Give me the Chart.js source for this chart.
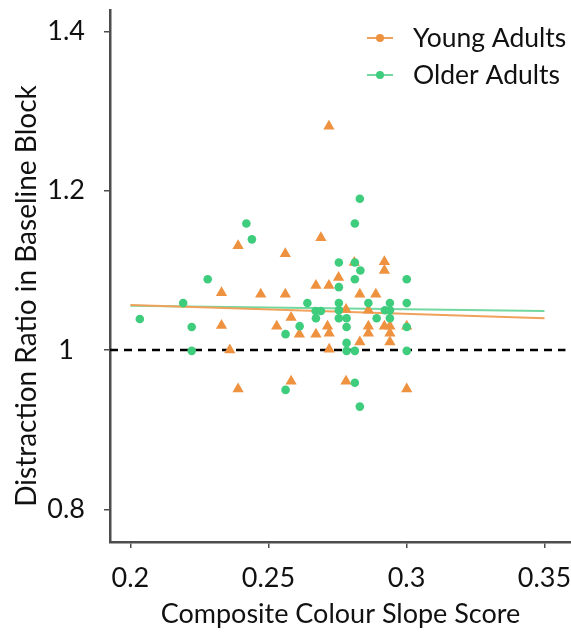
<!DOCTYPE html>
<html>
<head>
<meta charset="utf-8">
<script src="https://cdn.jsdelivr.net/npm/chart.js@4.4.0/dist/chart.umd.min.js"></script>
<style>
  html, body { margin: 0; padding: 0; background: #ffffff; overflow: hidden; }
  canvas { display: block; }
</style>
</head>
<body>
<canvas id="c" width="571" height="632" style="width:571px;height:632px"></canvas>
<script>
// ---- Data ----
const seriesNames = ['Young Adults', 'Older Adults'];

const youngX = [0.2719,0.2690,0.2561,0.2390,0.2330,0.2472,0.2561,0.2811,0.2920,0.2920,
                0.2754,0.2672,0.2719,0.2831,0.2889,0.2781,0.2862,0.2582,0.2530,0.2612,
                0.2672,0.2714,0.2720,0.2862,0.2920,0.2940,0.3001,0.2862,0.2940,0.2831,
                0.2940,0.2720,0.2360,0.2582,0.2781,0.2390,0.3001,0.2330];
const youngY = [1.281,1.141,1.121,1.131,1.072,1.070,1.070,1.110,1.111,1.100,
                1.091,1.081,1.081,1.070,1.070,1.051,1.050,1.041,1.030,1.020,
                1.020,1.030,1.021,1.030,1.030,1.030,1.030,1.021,1.021,1.010,
                1.010,1.001,1.000,0.961,0.961,0.951,0.951,1.031];

const olderX = [0.2831,0.2813,0.2420,0.2440,0.2280,0.2755,0.2813,0.2833,0.2813,0.3001,
                0.2755,0.2191,0.2641,0.2755,0.2862,0.2940,0.3001,0.2671,0.2690,0.2755,
                0.2922,0.2940,0.2034,0.2672,0.2755,0.2783,0.2892,0.2940,0.2222,0.2613,
                0.2783,0.3001,0.2562,0.2783,0.2222,0.2783,0.2813,0.3001,0.2813,0.2562,
                0.2831];
const olderY = [1.190,1.159,1.159,1.139,1.089,1.110,1.110,1.100,1.089,1.089,
                1.079,1.059,1.059,1.059,1.059,1.059,1.059,1.049,1.049,1.050,
                1.050,1.050,1.039,1.040,1.040,1.040,1.040,1.040,1.029,1.030,
                1.029,1.029,1.020,1.009,0.999,0.999,0.999,0.999,0.959,0.950,
                0.929];

// fitted trend lines (end points)
const fitX = [0.2, 0.35];
const youngFit = [1.0565, 1.040];
const olderFit = [1.0555, 1.049];

// reference line at ratio = 1
const refX = [0.1926, 0.3576];
const refY = [1, 1];

// axes
const xTicks = [0.2, 0.25, 0.3, 0.35];
const xTickLabels = ['0.2', '0.25', '0.3', '0.35'];
const yTicks = [0.8, 1.0, 1.2, 1.4];
const yTickLabels = ['0.8', '1', '1.2', '1.4'];
const xRange = [0.1926, 0.3596];
const yRange = [0.759, 1.427];
const xTitle = 'Composite Colour Slope Score';
const yTitle = 'Distraction Ratio in Baseline Block';

// ---- styles ----
const ORANGE = '#EE9240';
const GREEN = '#3ECC7D';
const ORANGE_LINE = '#F0A25C';
const GREEN_LINE = '#72D8A0';
const AXIS = '#4d4d4d';
const FONT = 'Lato, "Open Sans", sans-serif';

const zip = (xs, ys) => xs.map((x, i) => ({ x, y: ys[i] }));

const legendPlugin = {
  id: 'insideLegend',
  afterDraw(chart) {
    const { ctx, chartArea } = chart;
    const items = [
      { text: seriesNames[0], color: ORANGE, line: ORANGE_LINE },
      { text: seriesNames[1], color: GREEN, line: GREEN_LINE }
    ];
    ctx.save();
    ctx.font = '26.5px ' + FONT;
    ctx.textBaseline = 'middle';
    ctx.textAlign = 'left';
    items.forEach((it, i) => {
      const y = chartArea.top + 28 + i * 37;
      const x0 = chartArea.right - 204;
      ctx.strokeStyle = it.line;
      ctx.lineWidth = 2;
      ctx.beginPath();
      ctx.moveTo(x0, y);
      ctx.lineTo(x0 + 26, y);
      ctx.stroke();
      ctx.fillStyle = it.color;
      ctx.beginPath();
      ctx.arc(x0 + 13, y, 4, 0, Math.PI * 2);
      ctx.fill();
      ctx.fillStyle = '#111111';
      ctx.fillText(it.text, x0 + 46, y);
    });
    ctx.restore();
  }
};

// y-axis title, drawn as text beside the axis (centred slightly below the plot centre as in the reference)
const yTitlePlugin = {
  id: 'yTitle',
  afterDraw(chart) {
    const { ctx, chartArea } = chart;
    ctx.save();
    ctx.font = '28px ' + FONT;
    ctx.fillStyle = '#111111';
    ctx.textAlign = 'center';
    ctx.textBaseline = 'middle';
    ctx.translate(27, (chartArea.top + chartArea.bottom) / 2 + 20);
    ctx.rotate(-Math.PI / 2);
    ctx.fillText(yTitle, 0, 0);
    ctx.restore();
  }
};

new Chart(document.getElementById('c'), {
  type: 'scatter',
  data: {
    datasets: [
      { label: seriesNames[1], data: zip(olderX, olderY), backgroundColor: GREEN,
        pointStyle: 'circle', pointRadius: 4.3, borderWidth: 0, order: 0 },
      { label: seriesNames[0], data: zip(youngX, youngY), backgroundColor: ORANGE,
        pointStyle: 'triangle', pointRadius: 6.5, borderWidth: 0, order: 1 },
      { type: 'line', label: 'fitYoung', data: zip(fitX, youngFit), borderColor: ORANGE_LINE,
        borderWidth: 2, pointRadius: 0, fill: false, order: 2 },
      { type: 'line', label: 'fitOlder', data: zip(fitX, olderFit), borderColor: GREEN_LINE,
        borderWidth: 2, pointRadius: 0, fill: false, order: 3 },
      { type: 'line', label: 'ref', data: zip(refX, refY), borderColor: '#000000',
        borderWidth: 2.5, borderDash: [8, 6], pointRadius: 0, fill: false, order: 4 }
    ]
  },
  options: {
    responsive: false,
    animation: false,
    devicePixelRatio: 1,
    layout: { autoPadding: false, padding: { top: 10, right: 0, left: 0, bottom: 0 } },
    plugins: { legend: { display: false }, tooltip: { enabled: false } },
    scales: {
      x: {
        type: 'linear',
        min: xRange[0], max: xRange[1],
        afterBuildTicks: s => { s.ticks = xTicks.map(v => ({ value: v })); },
        afterFit: s => { s.height = 90; s.paddingLeft = 0; s.paddingRight = 0; },
        ticks: {
          callback: (v) => xTickLabels[xTicks.findIndex(t => Math.abs(t - v) < 1e-9)],
          color: '#111111', font: { family: FONT, size: 27, lineHeight: 2.27 }, padding: 0, maxRotation: 0
        },
        grid: { display: true, drawOnChartArea: false, drawTicks: true, tickLength: 6,
                color: AXIS, lineWidth: 1.5 },
        border: { display: true, color: AXIS, width: 2.5 },
        title: { display: true, text: xTitle, color: '#111111',
                 font: { family: FONT, size: 27 }, padding: { top: 0, bottom: 2 } }
      },
      y: {
        type: 'linear',
        min: yRange[0], max: yRange[1],
        afterBuildTicks: s => { s.ticks = yTicks.map(v => ({ value: v })); },
        afterFit: s => { s.width = 110; s.paddingTop = 0; s.paddingBottom = 0; },
        ticks: {
          callback: (v) => yTickLabels[yTicks.findIndex(t => Math.abs(t - v) < 1e-9)],
          color: '#111111', font: { family: FONT, size: 27 }, padding: 19, crossAlign: 'center'
        },
        grid: { display: true, drawOnChartArea: false, drawTicks: true, tickLength: 6,
                color: AXIS, lineWidth: 1.5 },
        border: { display: true, color: AXIS, width: 2.5 },
        title: { display: false }
      }
    }
  },
  plugins: [legendPlugin, yTitlePlugin]
});
</script>
</body>
</html>
